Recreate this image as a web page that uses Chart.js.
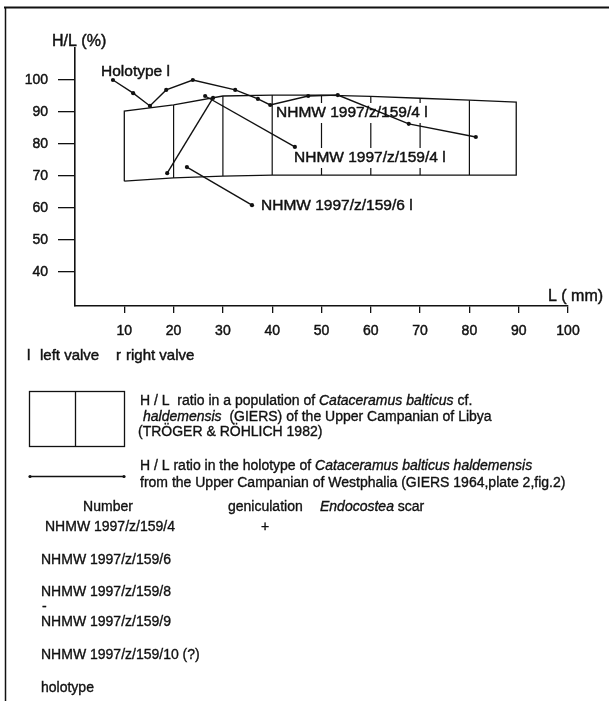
<!DOCTYPE html>
<html>
<head>
<meta charset="utf-8">
<script src="https://cdn.jsdelivr.net/npm/chart.js@4.4.1/dist/chart.umd.min.js"></script>
<style>
  html, body { margin: 0; padding: 0; background: #fff; }
  #wrap { width: 609px; height: 701px; position: relative; }
</style>
</head>
<body>
<div id="wrap"><canvas id="chart"></canvas></div>
<script>
// population range (TRÖGER & RÖHLICH 1982): L of each division and H/L at top / bottom
const POP_L = [10, 20, 30, 40, 50, 60, 70, 80, 89.5];
const POP_TOP = [90.3, 92.2, 95, 95.3, 95.3, 94.9, 94.3, 93.7, 93.1];
const POP_BOTTOM = [68.4, 69.4, 70, 70.3, 70.3, 70.3, 70.3, 70.3, 70.3];

// holotype growth line
const HOLO_L = [7.7, 11.8, 15.2, 18.5, 23.9, 32.5, 37.1, 39.6, 47.3, 53.3, 67.7, 81.3];
const HOLO_HL = [100, 95.9, 91.9, 96.9, 100, 96.9, 94.1, 92.2, 95, 95.3, 86.3, 82.2];

// NHMW specimens (two growth stages each)
const SPEC_A_L = [18.7, 28];
const SPEC_A_HL = [70.9, 94.4];
const SPEC_B_L = [26.4, 44.6];
const SPEC_B_HL = [95, 79.1];
const SPEC_C_L = [22.7, 35.9];
const SPEC_C_HL = [72.8, 60.9];

const X_TICKS = [10, 20, 30, 40, 50, 60, 70, 80, 90, 100];
const Y_TICKS = [40, 50, 60, 70, 80, 90, 100];

const FONT = '"Liberation Sans", Arial, sans-serif';
const INK = '#111';

const pts = (xs, ys) => xs.map((x, i) => ({ x: x, y: ys[i] }));

// outline of the population box
const outline = [];
outline.push({ x: POP_L[0], y: POP_BOTTOM[0] });
POP_L.forEach((l, i) => outline.push({ x: l, y: POP_TOP[i] }));
for (let i = POP_L.length - 1; i >= 0; i--) outline.push({ x: POP_L[i], y: POP_BOTTOM[i] });

// inner division lines
const divisions = [];
for (let i = 1; i < POP_L.length - 1; i++) {
    divisions.push({ x: POP_L[i], y: POP_BOTTOM[i] });
    divisions.push({ x: POP_L[i], y: POP_TOP[i] });
    divisions.push({ x: POP_L[i], y: null });
}

const lineSet = (data) => ({
    data: data,
    showLine: true,
    borderColor: INK,
    borderWidth: 1.4,
    pointRadius: 2.1,
    pointBackgroundColor: INK,
    pointBorderWidth: 0,
    spanGaps: false
});

const datasets = [
    lineSet(pts(HOLO_L, HOLO_HL)),
    lineSet(pts(SPEC_A_L, SPEC_A_HL)),
    lineSet(pts(SPEC_B_L, SPEC_B_HL)),
    lineSet(pts(SPEC_C_L, SPEC_C_HL)),
    { data: outline, showLine: true, borderColor: INK, borderWidth: 1.3, pointRadius: 0 },
    { data: divisions, showLine: true, borderColor: INK, borderWidth: 1.2, pointRadius: 0, spanGaps: false }
];
const DIVISION_INDEX = datasets.length - 1;

// label boxes in the plot (text, left, middle y)
const PLOT_LABELS = [
    ['Holotype l', 101, 72],
    ['NHMW 1997/z/159/4 l', 276, 113],
    ['NHMW 1997/z/159/4 l', 294, 158],
    ['NHMW 1997/z/159/6 l', 261, 206]
];

function text(ctx, str, x, y, size, italic, align) {
    ctx.font = (italic ? 'italic ' : '') + size + 'px ' + FONT;
    ctx.textAlign = align || 'left';
    ctx.fillText(str, x, y);
    ctx.strokeText(str, x, y);
    return ctx.measureText(str).width;
}

function runs(ctx, parts, x, y, size) {
    parts.forEach(p => { x += text(ctx, p[0], x, y, size, p[1]); });
}

const decor = {
    id: 'decor',
    beforeDraw(chart) {
        const ctx = chart.ctx;
        ctx.save();
        ctx.fillStyle = '#fff';
        ctx.fillRect(0, 0, chart.width, chart.height);
        ctx.strokeStyle = INK;
        ctx.lineWidth = 2;
        ctx.beginPath();
        ctx.moveTo(4, 7.5); ctx.lineTo(609, 7.5);
        ctx.stroke();
        ctx.lineWidth = 1.5;
        ctx.beginPath();
        ctx.moveTo(5.5, 7); ctx.lineTo(5.5, 701);
        ctx.stroke();
        ctx.restore();
    },
    afterDatasetDraw(chart, args) {
        if (args.index !== DIVISION_INDEX) return;
        const ctx = chart.ctx;
        ctx.save();
        ctx.fillStyle = '#fff';
        ctx.font = '15.5px ' + FONT;
        PLOT_LABELS.slice(1).forEach(l => {
            const w = ctx.measureText(l[0]).width;
            ctx.fillRect(l[1] - 2, l[2] - 10, w + 4, 20);
        });
        ctx.restore();
    },
    afterDatasetsDraw(chart) {
        const ctx = chart.ctx;
        ctx.save();
        ctx.fillStyle = INK;
        ctx.strokeStyle = INK;
        ctx.lineWidth = 0.45;
        ctx.textBaseline = 'middle';

        text(ctx, 'H/L (%)', 52, 42, 16);
        text(ctx, 'L ( mm)', 548, 297, 16);
        PLOT_LABELS.forEach(l => text(ctx, l[0], l[1], l[2], 15.5));

        // valve key
        text(ctx, 'l', 27, 356, 15);
        text(ctx, 'left valve', 40, 356, 15);
        text(ctx, 'r', 116, 356, 15);
        text(ctx, 'right valve', 126, 356, 15);

        // legend symbols
        ctx.lineWidth = 1.3;
        ctx.strokeRect(29.5, 391.5, 95, 55);
        ctx.beginPath();
        ctx.moveTo(75.5, 391.5); ctx.lineTo(75.5, 446.5);
        ctx.moveTo(30, 476.5); ctx.lineTo(124, 476.5);
        ctx.stroke();
        [30, 124].forEach(x => { ctx.beginPath(); ctx.arc(x, 476.5, 1.6, 0, Math.PI * 2); ctx.fill(); });
        ctx.lineWidth = 0.35;

        runs(ctx, [['H / L  ratio in a population of ', false], ['Cataceramus balticus', true], [' cf.', false]], 140, 401, 14);
        runs(ctx, [['haldemensis', true], ['  (GIERS) of the Upper Campanian of Libya', false]], 143, 417, 14);
        text(ctx, '(TRÖGER & RÖHLICH 1982)', 138, 432, 14);
        runs(ctx, [['H / L ratio in the holotype of ', false], ['Cataceramus balticus haldemensis', true]], 140, 466, 14);
        text(ctx, 'from the Upper Campanian of Westphalia (GIERS 1964,plate 2,fig.2)', 140, 483, 14);

        // table
        text(ctx, 'Number', 108, 507, 14, false, 'center');
        text(ctx, 'geniculation', 228, 507, 14);
        runs(ctx, [['Endocostea', true], [' scar', false]], 320, 507, 14);
        text(ctx, 'NHMW 1997/z/159/4', 45, 527, 14);
        text(ctx, '+', 261, 527, 14);
        text(ctx, 'NHMW 1997/z/159/6', 41, 560, 14);
        text(ctx, 'NHMW 1997/z/159/8', 41, 592, 14);
        text(ctx, '-', 42, 607, 14);
        text(ctx, 'NHMW 1997/z/159/9', 41, 622, 14);
        text(ctx, 'NHMW 1997/z/159/10 (?)', 41, 655, 14);
        text(ctx, 'holotype', 41, 688, 14);
        ctx.restore();
    }
};

const canvas = document.getElementById('chart');
canvas.width = 609;
canvas.height = 701;

const tickFont = { family: FONT, size: 14 };

new Chart(canvas, {
    type: 'scatter',
    data: { datasets: datasets },
    options: {
        responsive: false,
        animation: false,
        events: [],
        layout: { padding: { left: 0, top: 48, right: 41, bottom: 0 } },
        plugins: { legend: { display: false }, tooltip: { enabled: false } },
        scales: {
            x: {
                type: 'linear',
                min: 0,
                max: 100,
                afterFit: s => { s.height = 395; },
                afterBuildTicks: s => { s.ticks = X_TICKS.map(v => ({ value: v })); },
                border: { display: true, color: INK, width: 1.6 },
                grid: { drawOnChartArea: false, drawTicks: true, tickLength: 7, color: INK, lineWidth: 1.3 },
                ticks: { color: INK, font: tickFont, padding: 10, maxRotation: 0, autoSkip: false,
                         textStrokeColor: INK, textStrokeWidth: 0.45 }
            },
            y: {
                type: 'linear',
                min: 29.4,
                max: 110,
                afterFit: s => { s.width = 75; },
                afterBuildTicks: s => { s.ticks = Y_TICKS.map(v => ({ value: v })); },
                border: { display: true, color: INK, width: 1.6 },
                grid: { drawOnChartArea: false, drawTicks: true, tickLength: 17, color: INK, lineWidth: 1.3 },
                ticks: { color: INK, font: tickFont, padding: 10, autoSkip: false,
                         textStrokeColor: INK, textStrokeWidth: 0.45 }
            }
        }
    },
    plugins: [decor]
});
</script>
</body>
</html>
